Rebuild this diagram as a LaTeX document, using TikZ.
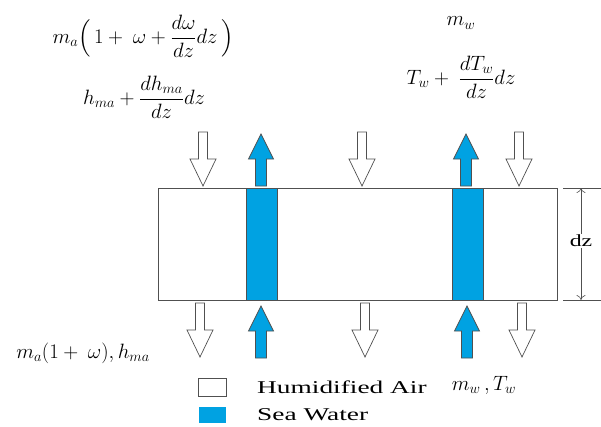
\documentclass[tikz,border=0pt]{standalone}
\usepackage{amsmath}
\usepackage{fontspec}
\setmainfont{Liberation Serif}
\usetikzlibrary{arrows.meta}
\definecolor{seablue}{RGB}{0,162,226}
\definecolor{edgegray}{RGB}{80,80,80}
\tikzset{
  airarrow/.pic={\draw[edgegray,line width=0.7pt,fill=white,line join=miter]
     (-4.5,0) -- (4.5,0) -- (4.5,27) -- (13,27) -- (0,54) -- (-13,27) -- (-4.5,27) -- cycle;},
  waterarrow/.pic={\draw[edgegray,line width=0.7pt,fill=seablue,line join=miter]
     (-5.5,0) -- (5.5,0) -- (5.5,-27) -- (12.5,-27) -- (0,-52) -- (-12.5,-27) -- (-5.5,-27) -- cycle;},
  strip/.style={draw=edgegray,line width=0.7pt,fill=seablue},
  mathlbl/.style={font=\fontsize{20}{24}\selectfont,inner sep=0pt},
  legendtxt/.style={font=\fontsize{18}{21}\selectfont,inner sep=0pt,anchor=west},
  dimline/.style={edgegray,line width=0.6pt}
}
\begin{document}
\begin{tikzpicture}[x=1pt,y=-1pt]
\useasboundingbox[fill=white] (0,0) rectangle (601,426);
% main block
\draw[edgegray,line width=0.7pt,fill=white] (158,188) rectangle (557,300);
\draw[strip] (246,188) rectangle (277,300);
\draw[strip] (452,188) rectangle (483,300);
% top arrows
\pic at (203,132) {airarrow};
\pic at (362,132) {airarrow};
\pic at (519,132) {airarrow};
\pic at (261,186) {waterarrow};
\pic at (466,186) {waterarrow};
% bottom arrows
\pic at (200,303) {airarrow};
\pic at (365,303) {airarrow};
\pic at (522,303) {airarrow};
\pic at (261,358) {waterarrow};
\pic at (467,358) {waterarrow};
% dimension
\coordinate (dt) at (581,188);
\coordinate (db) at (581,300);
\draw[dimline] (563,188) -- (601,188);
\draw[dimline] (563,300) -- (601,300);
\node[fill=white,inner sep=1pt,font=\fontsize{17}{20}\selectfont] (dz) at (581,241) {\scalebox{1.4}[1]{dz}};
\draw[dimline,-{To[length=5pt,width=9pt]}] (dz) -- (dt);
\draw[dimline,-{To[length=5pt,width=9pt]}] (dz) -- (db);
% labels
\node[mathlbl] (l1) at (143,36) {$m_a\Bigl(\,1+\ \omega+\dfrac{d\omega}{dz}dz\,\Bigr)$};
\node[mathlbl] (l2) at (144,97) {$h_{ma}+\dfrac{dh_{ma}}{dz}dz$};
\node[mathlbl] (l3) at (461,23) {$m_w$};
\node[mathlbl] (l4) at (461,77) {$T_w+\ \dfrac{dT_w}{dz}dz$};
\node[mathlbl] (l5) at (83,353) {$m_a(1+\ \omega),h_{ma}$};
\node[mathlbl] (l6) at (484,385) {$m_w\,,T_w$};
% legend
\draw[edgegray,line width=0.7pt,fill=white] (198,378) rectangle (226,396);
\fill[seablue] (199,407) rectangle (226,423);
\node[legendtxt] (lg1) at (257,387) {\scalebox{1.52}[1]{Humidified Air}};
\node[legendtxt] (lg2) at (257,415) {\scalebox{1.52}[1]{Sea Water}};
\end{tikzpicture}
\end{document}
